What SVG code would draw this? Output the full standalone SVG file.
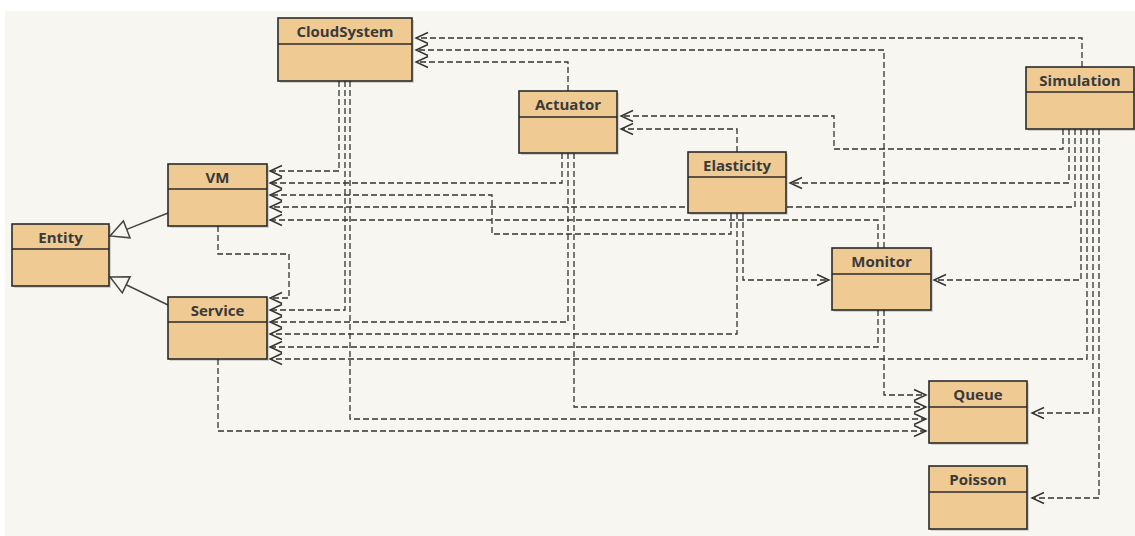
<svg xmlns="http://www.w3.org/2000/svg" width="1135" height="536" viewBox="0 0 1135 536">
  <style>
    .conn { fill: none; stroke: #333; stroke-width: 1.3; stroke-dasharray: 6 3; }
    .dep { marker-end: url(#open); }
    .gen { fill: none; stroke: #444; stroke-width: 1.5; }
    .tri { fill: #f7f6f1; stroke: #444; stroke-width: 1.5; }
    .box { fill: #efca93; stroke: #2a2a2a; stroke-width: 1.6; }
    .shadow { fill: #000; opacity: 0.15; }
    .div { stroke: #2a2a2a; stroke-width: 1.4; }
    .title { font-family: "Open Sans", "Noto Sans", "Liberation Sans", sans-serif; font-weight: bold; font-size: 15px; fill: #3a3a3a; text-anchor: middle; }
  </style>
  <defs>
    <marker id="open" markerUnits="userSpaceOnUse" markerWidth="16" markerHeight="14" refX="13" refY="6" orient="auto" viewBox="0 0 16 12">
      <path d="M1 0.5 L13 6 L1 11.5" fill="none" stroke="#333" stroke-width="1.4"/>
    </marker>
  </defs>
  <rect x="0" y="0" width="1135" height="536" fill="#ffffff"/>
  <rect x="5" y="11" width="1130" height="525" fill="#f7f6f1"/>

  <g id="connectors">
    <path class="conn dep" d="M1082 67 V38 H416"/>
    <path class="conn dep" d="M884 248 V50 H416"/>
    <path class="conn dep" d="M568 91 V62 H416"/>
    <path class="conn dep" d="M339 81 V171 H270"/>
    <path class="conn dep" d="M345 81 V310 H270"/>
    <path class="conn dep" d="M350 81 V419 H926"/>
    <path class="conn dep" d="M562 153 V183 H270"/>
    <path class="conn dep" d="M568 153 V322 H270"/>
    <path class="conn dep" d="M574 153 V407 H926"/>
    <path class="conn dep" d="M1063 129 V149 H834 V116 H621"/>
    <path class="conn dep" d="M737 152 V129 H621"/>
    <path class="conn dep" d="M1069 129 V183 H790"/>
    <path class="conn dep" d="M1075 129 V207 H270"/>
    <path class="conn dep" d="M731 213 V234 H492 V195 H270"/>
    <path class="conn dep" d="M878 248 V220 H270"/>
    <path class="conn dep" d="M737 213 V334 H270"/>
    <path class="conn dep" d="M743 213 V280 H829"/>
    <path class="conn dep" d="M1081 129 V280 H934"/>
    <path class="conn dep" d="M878 310 V347 H270"/>
    <path class="conn dep" d="M884 310 V395 H926"/>
    <path class="conn dep" d="M1087 129 V359 H270"/>
    <path class="conn dep" d="M1093 129 V413 H1032"/>
    <path class="conn dep" d="M1099 129 V498 H1032"/>
    <path class="conn dep" d="M218 226 V254 H289 V298 H270"/>
    <path class="conn dep" d="M218 359 V431 H926"/>
    <path class="gen" d="M168 213 L126.7 229.4"/>
    <polygon class="tri" points="110,236 123.4,221 130,237.8"/>
    <path class="gen" d="M168 305 L126.2 284.8"/>
    <polygon class="tri" points="110,277 130.1,276.7 122.3,292.9"/>
  </g>

  <g id="CloudSystem">
    <rect class="shadow" x="280" y="20" width="134" height="63"/>
    <rect class="box" x="278" y="18" width="134" height="63"/>
    <line class="div" x1="278" y1="44" x2="412" y2="44"/>
    <text class="title" x="345" y="37">CloudSystem</text>
  </g>
  <g id="Actuator">
    <rect class="shadow" x="521" y="93" width="98" height="62"/>
    <rect class="box" x="519" y="91" width="98" height="62"/>
    <line class="div" x1="519" y1="117" x2="617" y2="117"/>
    <text class="title" x="568" y="110">Actuator</text>
  </g>
  <g id="Simulation">
    <rect class="shadow" x="1028" y="69" width="108" height="62"/>
    <rect class="box" x="1026" y="67" width="108" height="62"/>
    <line class="div" x1="1026" y1="92" x2="1134" y2="92"/>
    <text class="title" x="1080" y="86">Simulation</text>
  </g>
  <g id="Elasticity">
    <rect class="shadow" x="690" y="154" width="98" height="61"/>
    <rect class="box" x="688" y="152" width="98" height="61"/>
    <line class="div" x1="688" y1="177" x2="786" y2="177"/>
    <text class="title" x="737" y="171">Elasticity</text>
  </g>
  <g id="VM">
    <rect class="shadow" x="170" y="166" width="99" height="62"/>
    <rect class="box" x="168" y="164" width="99" height="62"/>
    <line class="div" x1="168" y1="189" x2="267" y2="189"/>
    <text class="title" x="217.5" y="183">VM</text>
  </g>
  <g id="Entity">
    <rect class="shadow" x="14" y="226" width="97" height="62"/>
    <rect class="box" x="12" y="224" width="97" height="62"/>
    <line class="div" x1="12" y1="249" x2="109" y2="249"/>
    <text class="title" x="60.5" y="243">Entity</text>
  </g>
  <g id="Service">
    <rect class="shadow" x="170" y="299" width="99" height="62"/>
    <rect class="box" x="168" y="297" width="99" height="62"/>
    <line class="div" x1="168" y1="322" x2="267" y2="322"/>
    <text class="title" x="217.5" y="316">Service</text>
  </g>
  <g id="Monitor">
    <rect class="shadow" x="834" y="250" width="99" height="62"/>
    <rect class="box" x="832" y="248" width="99" height="62"/>
    <line class="div" x1="832" y1="274" x2="931" y2="274"/>
    <text class="title" x="881.5" y="267">Monitor</text>
  </g>
  <g id="Queue">
    <rect class="shadow" x="931" y="383" width="98" height="62"/>
    <rect class="box" x="929" y="381" width="98" height="62"/>
    <line class="div" x1="929" y1="407" x2="1027" y2="407"/>
    <text class="title" x="978" y="400">Queue</text>
  </g>
  <g id="Poisson">
    <rect class="shadow" x="931" y="468" width="98" height="63"/>
    <rect class="box" x="929" y="466" width="98" height="63"/>
    <line class="div" x1="929" y1="492" x2="1027" y2="492"/>
    <text class="title" x="978" y="485">Poisson</text>
  </g>
</svg>
